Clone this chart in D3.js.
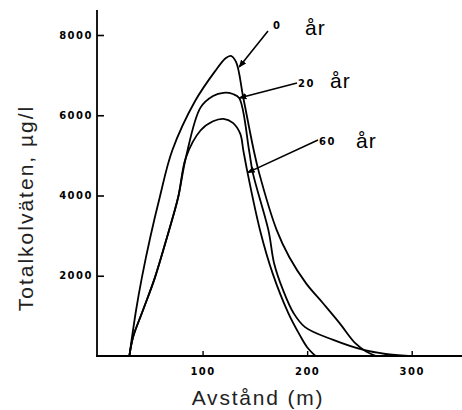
<!DOCTYPE html>
<html>
<head>
<meta charset="utf-8">
<script src="https://cdn.jsdelivr.net/npm/d3@7"></script>
<style>
  body { margin: 0; background: #fff; }
  svg { display: block; }
</style>
</head>
<body>
<div id="chart"></div>
<script>
// distance (m) and total hydrocarbons (µg/l)
var dist0  = [30, 36.4, 42, 50, 59, 71, 93, 112, 122, 127, 132, 139, 149, 154, 171, 183, 199, 215, 231, 246, 256, 266];
var conc0  = [0, 1140, 1960, 2960, 3950, 5120, 6360, 7100, 7420, 7480, 7330, 6430, 5120, 4570, 3130, 2460, 1810, 1320, 820, 320, 120, 0];

var dist20 = [30, 33.5, 43, 54.5, 66, 76.6, 84, 98, 110, 120, 129, 135, 144.5, 148, 163, 168.5, 177, 187, 198, 225, 254, 275, 297];
var conc20 = [0, 470, 1140, 1960, 2960, 3950, 4940, 6190, 6480, 6560, 6530, 6430, 5120, 4570, 3130, 2300, 1640, 1070, 720, 400, 150, 50, 0];

var dist60 = [30, 33.5, 43, 54.5, 66, 76.6, 84, 98, 110, 120, 129, 136, 139, 143, 155, 167, 182, 193, 200, 208];
var conc60 = [0, 470, 1140, 1960, 2960, 3950, 4940, 5620, 5850, 5910, 5810, 5540, 5120, 4570, 3130, 2060, 1070, 520, 220, 0];

var yTicks = [2000, 4000, 6000, 8000];
var xTicks = [100, 200, 300];

// label text, and the point on each curve the pointer line ends at
var labels = [
  { num: "0",  dist: 135, conc: 7200 },
  { num: "20", dist: 135, conc: 6430 },
  { num: "60", dist: 143, conc: 4570 }
];

var width = 462, height = 410;
var svg = d3.select("#chart").append("svg")
  .attr("width", width)
  .attr("height", height);

var x = d3.scaleLinear().domain([0, 350]).range([98, 464]);
var y = d3.scaleLinear().domain([0, 8000]).range([356, 35]);

// axis lines
svg.append("line")
  .attr("x1", 97).attr("x2", 97)
  .attr("y1", 10).attr("y2", 357)
  .attr("stroke", "#000").attr("stroke-width", 1.8);
svg.append("line")
  .attr("x1", 96).attr("x2", 462)
  .attr("y1", 356).attr("y2", 356)
  .attr("stroke", "#000").attr("stroke-width", 1.8);

// y ticks point inward
var yAxis = svg.append("g")
  .attr("transform", "translate(97,0)")
  .call(d3.axisLeft(y).tickValues(yTicks).tickFormat(d3.format("d")).tickSize(-7).tickPadding(4));
yAxis.select(".domain").remove();
yAxis.selectAll("line").attr("stroke-width", 1.6);
yAxis.selectAll("text")
  .style("font-family", "DejaVu Sans")
  .style("font-weight", "bold")
  .style("font-size", "10px")
  .style("letter-spacing", "1.5px");

var xAxis = svg.append("g")
  .attr("transform", "translate(0,356)")
  .call(d3.axisBottom(x).tickValues(xTicks).tickFormat(d3.format("d")).tickSize(-5).tickPadding(12));
xAxis.select(".domain").remove();
xAxis.selectAll("line").attr("stroke-width", 1.4);
xAxis.selectAll("text")
  .style("font-family", "DejaVu Sans")
  .style("font-weight", "bold")
  .style("font-size", "10px")
  .style("letter-spacing", "1.5px");

// curves
var line = d3.line()
  .x(function (d) { return x(d[0]); })
  .y(function (d) { return y(d[1]); })
  .curve(d3.curveCatmullRom.alpha(0.5));

[[dist0, conc0], [dist20, conc20], [dist60, conc60]].forEach(function (s) {
  var pts = s[0].map(function (d, i) { return [d, s[1][i]]; });
  svg.append("path")
    .datum(pts)
    .attr("d", line)
    .attr("fill", "none")
    .attr("stroke", "#000")
    .attr("stroke-width", 1.8);
});

// pointer lines with labels
svg.append("defs").append("marker")
  .attr("id", "tip")
  .attr("viewBox", "0 0 10 10")
  .attr("refX", 9).attr("refY", 5)
  .attr("markerWidth", 5).attr("markerHeight", 5)
  .attr("orient", "auto")
  .append("path")
  .attr("d", "M0,1L10,5L0,9Z")
  .attr("fill", "#000");

var labelPos = [
  { lx: 268, ly: 31, nx: 273, ny: 29, ax: 305, ay: 35 },
  { lx: 297, ly: 83, nx: 298, ny: 87, ax: 330, ay: 88 },
  { lx: 318, ly: 140, nx: 319, ny: 145, ax: 356, ay: 148 }
];

labels.forEach(function (d, i) {
  var p = labelPos[i];
  svg.append("line")
    .attr("x1", p.lx).attr("y1", p.ly)
    .attr("x2", x(d.dist)).attr("y2", y(d.conc))
    .attr("stroke", "#000").attr("stroke-width", 1.6)
    .attr("marker-end", "url(#tip)");
  svg.append("text")
    .attr("x", p.nx).attr("y", p.ny)
    .style("font-family", "DejaVu Sans")
    .style("font-weight", "bold")
    .style("font-size", "10px")
    .style("letter-spacing", "1.5px")
    .text(d.num);
  svg.append("text")
    .attr("x", p.ax).attr("y", p.ay)
    .style("font-family", "Liberation Sans")
    .style("font-size", "21px")
    .style("letter-spacing", "1px")
    .text("år");
});

// axis titles
svg.append("text")
  .attr("x", 258).attr("y", 405)
  .attr("text-anchor", "middle")
  .style("font-family", "Liberation Sans")
  .style("font-size", "21px")
  .style("letter-spacing", "1.8px")
  .attr("fill", "#222")
  .text("Avstånd (m)");

svg.append("text")
  .attr("transform", "translate(33,208) rotate(-90)")
  .attr("text-anchor", "middle")
  .style("font-family", "Liberation Sans")
  .style("font-size", "21px")
  .style("letter-spacing", "2px")
  .attr("fill", "#222")
  .text("Totalkolväten, µg/l");
</script>
</body>
</html>
